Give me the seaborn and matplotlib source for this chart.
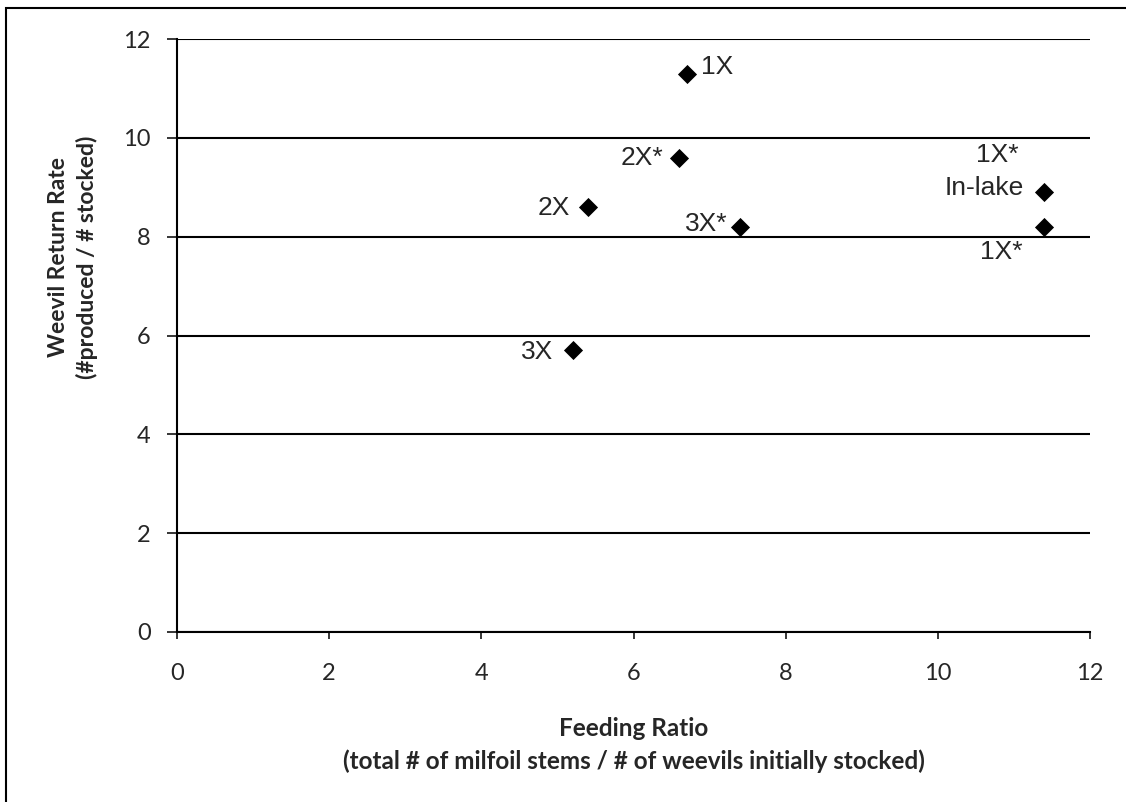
import matplotlib
matplotlib.use('Agg')
import matplotlib.pyplot as plt
import matplotlib.patches as patches
import pandas as pd
import seaborn as sns

# data
labels = ['1X', '2X*', '2X', '3X*', '3X', 'In-lake', '1X*']
feeding_ratio = [6.7, 6.6, 5.4, 7.4, 5.2, 11.4, 11.4]
return_rate = [11.3, 9.6, 8.6, 8.2, 5.7, 8.9, 8.2]
x_ticks = [0, 2, 4, 6, 8, 10, 12]
y_ticks = [0, 2, 4, 6, 8, 10, 12]

df = pd.DataFrame({'ratio': feeding_ratio, 'rate': return_rate, 'label': labels})

sns.set_style('white')
plt.rcParams['font.family'] = ['Liberation Sans', 'DejaVu Sans']

fig = plt.figure(figsize=(11.26, 8.02), dpi=100)
ax = fig.add_axes([177 / 1126, 170 / 802, 913 / 1126, 593 / 802])

# horizontal gridlines only
for yv in y_ticks:
    ax.axhline(yv, color='black', lw=1.5, zorder=0)

sns.scatterplot(data=df, x='ratio', y='rate', marker='D', color='black',
                s=95, edgecolor='black', linewidth=0, ax=ax, zorder=3)

# label offsets (points): ha, dx, dy
label_style = {
    '1X': ('left', 10, 5),
    '2X*': ('right', -11, 0),
    '2X': ('right', -13, -1),
    '3X*': ('right', -9, 2),
    '3X': ('right', -14, -1),
    'In-lake': ('right', -15, 3),
    '1X*': ('center', -31, -18),
}
for _, row in df.iterrows():
    ha, dx, dy = label_style[row['label']]
    ax.annotate(row['label'], (row['ratio'], row['rate']), xytext=(dx, dy),
                textcoords='offset points', ha=ha, va='center', fontsize=19)
# second "1X*" tag sitting above the In-lake point
ax.annotate('1X*', (feeding_ratio[5], return_rate[5]), xytext=(-34, 27),
            textcoords='offset points', ha='center', va='center', fontsize=19)

ax.set_xlim(0, 12)
ax.set_ylim(0, 12)
ax.set_xticks(x_ticks)
ax.set_yticks(y_ticks)
ax.tick_params(axis='x', direction='out', length=5, width=1.3, pad=17,
               bottom=True, labelsize=17)
ax.tick_params(axis='y', direction='out', length=7, width=1.3, pad=12,
               left=True, labelsize=17)
for lab in ax.get_xticklabels() + ax.get_yticklabels():
    lab.set_fontfamily(['Lato', 'DejaVu Sans'])

for side in ['top', 'right']:
    ax.spines[side].set_visible(False)
for side in ['left', 'bottom']:
    ax.spines[side].set_color('black')
    ax.spines[side].set_linewidth(1.5)

bold_font = ['Lato', 'DejaVu Sans']
ax.set_xlabel('Feeding Ratio\n(total # of milfoil stems / # of weevils initially stocked)',
              fontsize=17.5, fontweight='bold', family=bold_font, linespacing=1.5, labelpad=24)
ax.set_ylabel('Weevil Return Rate\n(#produced / # stocked)',
              fontsize=16.5, fontweight='bold', family=bold_font, linespacing=1.35)
ax.yaxis.set_label_coords(-0.087, 0.632)

# outer chart border (right and bottom edges fall outside the image)
fig.patches.append(patches.Rectangle((6 / 1126, -0.1), 1.2, (802 - 8) / 802 + 0.1,
                                     transform=fig.transFigure, fill=False,
                                     edgecolor='black', lw=1.5))

plt.savefig('out.png', dpi=100)
